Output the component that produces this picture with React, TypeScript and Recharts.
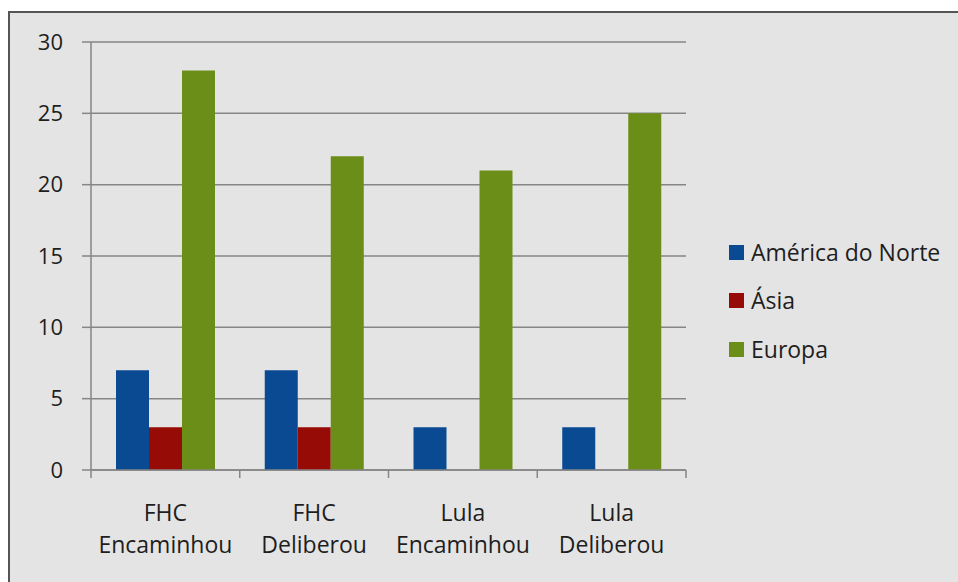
import React from 'react';
import { BarChart, Bar, XAxis, YAxis, CartesianGrid, Legend } from 'recharts';

const categories = ['FHC\nEncaminhou', 'FHC\nDeliberou', 'Lula\nEncaminhou', 'Lula\nDeliberou'];
const americaNorte = [7, 7, 3, 3];
const asia = [3, 3, 0, 0];
const europa = [28, 22, 21, 25];
const yTicks = [0, 5, 10, 15, 20, 25, 30];

const series = [
    { key: 'americaNorte', name: 'América do Norte', color: '#0a4a93' },
    { key: 'asia', name: 'Ásia', color: '#970b06' },
    { key: 'europa', name: 'Europa', color: '#6a8e17' },
];

const data = categories.map((cat, i) => ({
    cat,
    americaNorte: americaNorte[i],
    asia: asia[i],
    europa: europa[i],
}));

const FONT = '"Open Sans", sans-serif';
const AXIS_GRAY = '#868686';
const TEXT = '#1e1e1e';

const W = 958;
const H = 582;
const PLOT_LEFT = 91;
const PLOT_RIGHT = 686;
const PLOT_TOP = 42;
const PLOT_BOTTOM = 470;
const BAND = (PLOT_RIGHT - PLOT_LEFT) / categories.length;

// category labels are split on \n, tick marks sit on the band edges
const CategoryTick = ({ x, y, payload, index }: any) => {
    const half = payload && typeof payload.offset === 'number' && payload.offset > 0 ? payload.offset : BAND / 2;
    const lines = String(payload.value).split('\n');
    const last = index === categories.length - 1;
    return (
        <g>
            <line x1={x - half} x2={x - half} y1={y} y2={y + 8} stroke={AXIS_GRAY} strokeWidth={1.5} />
            {last && <line x1={x + half} x2={x + half} y1={y} y2={y + 8} stroke={AXIS_GRAY} strokeWidth={1.5} />}
            <text x={x} y={y} textAnchor="middle" fill={TEXT} fontSize={23} fontFamily={FONT}>
                {lines.map((l, i) => (
                    <tspan key={i} x={x} dy={i === 0 ? 51 : 32}>
                        {l}
                    </tspan>
                ))}
            </text>
        </g>
    );
};

const LegendBox = () => (
    <div style={{ fontFamily: FONT, fontSize: 23, color: TEXT }}>
        {series.map((s) => (
            <div key={s.key} style={{ height: 48.5, display: 'flex', alignItems: 'center' }}>
                <span style={{ width: 15, height: 15, background: s.color, display: 'inline-block', marginRight: 7 }} />
                <span style={{ lineHeight: 1 }}>{s.name}</span>
            </div>
        ))}
    </div>
);

export default function App() {
    return (
        <div style={{ position: 'absolute', left: 0, top: 0, width: W, height: H, overflow: 'hidden', background: '#ffffff' }}>
            <div
                style={{
                    position: 'absolute',
                    left: 8,
                    top: 11,
                    width: W + 10,
                    height: H + 10,
                    background: '#e4e4e4',
                    borderTop: '2px solid #555555',
                    borderLeft: '2px solid #555555',
                }}
            />
            <div style={{ position: 'absolute', left: 0, top: 0 }}>
                <BarChart
                    width={W}
                    height={H}
                    data={data}
                    margin={{ top: PLOT_TOP, right: W - PLOT_RIGHT, bottom: 0, left: 0 }}
                    barCategoryGap={25}
                    barGap={0}
                >
                    <CartesianGrid vertical={false} stroke={AXIS_GRAY} strokeWidth={1.5} />
                    <XAxis
                        dataKey="cat"
                        height={H - PLOT_BOTTOM}
                        axisLine={{ stroke: AXIS_GRAY, strokeWidth: 1.5 }}
                        tickLine={false}
                        tickSize={0}
                        tickMargin={0}
                        interval={0}
                        tick={<CategoryTick />}
                    />
                    <YAxis
                        width={PLOT_LEFT}
                        domain={[0, 30]}
                        ticks={yTicks}
                        interval={0}
                        axisLine={{ stroke: AXIS_GRAY, strokeWidth: 1.5 }}
                        tickLine={{ stroke: AXIS_GRAY, strokeWidth: 1.5 }}
                        tickSize={9}
                        tickMargin={19}
                        tick={{ fill: TEXT, fontSize: 22, fontFamily: FONT }}
                    />
                    <Legend
                        layout="vertical"
                        align="center"
                        verticalAlign="middle"
                        content={<LegendBox />}
                        wrapperStyle={{ position: 'absolute', left: 729, top: 228, width: 229 }}
                    />
                    {series.map((s) => (
                        <Bar key={s.key} dataKey={s.key} name={s.name} fill={s.color} isAnimationActive={false} />
                    ))}
                </BarChart>
            </div>
        </div>
    );
}
